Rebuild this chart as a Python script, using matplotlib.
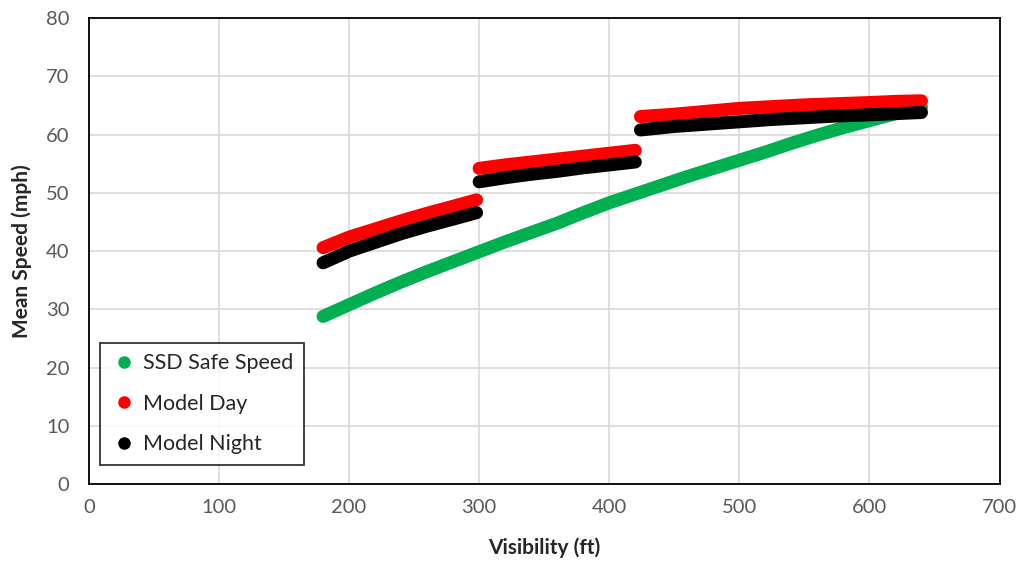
import numpy as np
import matplotlib.pyplot as plt
from matplotlib.lines import Line2D

plt.rcParams['font.family'] = ['Lato', 'DejaVu Sans']

# SSD safe speed
ssd_x = [180, 200, 220, 240, 260, 280, 300, 320, 340, 360, 380, 400, 420,
         440, 460, 480, 500, 520, 540, 560, 580, 600, 620, 640]
ssd_y = [28.8, 30.8, 32.8, 34.7, 36.5, 38.2, 39.9, 41.6, 43.2, 44.8, 46.6, 48.3, 49.8,
         51.3, 52.8, 54.2, 55.6, 57.0, 58.5, 59.9, 61.2, 62.4, 63.6, 64.7]

# model curves, three segments each
seg1_x = [180, 200, 220, 240, 260, 280, 298]
seg2_x = [300, 320, 340, 360, 380, 400, 420]
seg3_x = [424, 450, 475, 500, 525, 550, 575, 600, 620, 640]

day_y1 = [40.6, 42.4, 43.8, 45.2, 46.5, 47.7, 48.8]
day_y2 = [54.2, 54.8, 55.3, 55.8, 56.3, 56.8, 57.3]
day_y3 = [63.1, 63.5, 64.0, 64.5, 64.8, 65.1, 65.3, 65.5, 65.7, 65.8]

night_y1 = [38.0, 40.0, 41.5, 43.0, 44.3, 45.5, 46.6]
night_y2 = [51.9, 52.6, 53.2, 53.7, 54.3, 54.8, 55.3]
night_y3 = [60.8, 61.4, 61.8, 62.2, 62.6, 62.9, 63.2, 63.4, 63.6, 63.8]

labels = ['SSD Safe Speed', 'Model Day', 'Model Night']
colors = ['#00b050', '#ff0000', '#000000']

fig = plt.figure(figsize=(10.22, 5.65), dpi=100)
ax = fig.add_axes([0.087, 0.143, 0.891, 0.825])

lw = 9.4
ax.plot(ssd_x, ssd_y, color=colors[0], lw=lw, solid_capstyle='round', zorder=3)
for xs, ys in [(seg1_x, day_y1), (seg2_x, day_y2), (seg3_x, day_y3)]:
    ax.plot(xs, ys, color=colors[1], lw=lw, solid_capstyle='round', zorder=4)
for xs, ys in [(seg1_x, night_y1), (seg2_x, night_y2), (seg3_x, night_y3)]:
    ax.plot(xs, ys, color=colors[2], lw=lw, solid_capstyle='round', zorder=5)

ax.set_xlim(0, 700)
ax.set_ylim(0, 80)
ax.set_xticks(np.arange(0, 701, 100))
ax.set_yticks(np.arange(0, 81, 10))
ax.grid(True, color='#d9d9d9', lw=1.2)
ax.set_axisbelow(True)
ax.tick_params(length=0, labelsize=14.5, labelcolor='#595959')
ax.tick_params(axis='x', pad=11)
ax.tick_params(axis='y', pad=14)
for s in ax.spines.values():
    s.set_color('black')
    s.set_linewidth(1.3)

ax.set_xlabel('Visibility (ft)', fontsize=15, fontweight='bold', color='#262626', labelpad=15)
ax.set_ylabel('Mean Speed (mph)', fontsize=15, fontweight='bold', color='#262626', labelpad=10)

handles = [Line2D([], [], marker='o', ls='none', color=c, markersize=8) for c in colors]
leg = ax.legend(handles, labels, loc='lower left', bbox_to_anchor=(0.012, 0.041),
                fontsize=15.5, frameon=True, fancybox=False, borderaxespad=0,
                handletextpad=0.3, handlelength=1.2, labelspacing=0.95,
                borderpad=0.5, labelcolor='#262626')
leg.get_frame().set_edgecolor('black')
leg.get_frame().set_linewidth(1.3)

fig.savefig('out.png', dpi=100)
